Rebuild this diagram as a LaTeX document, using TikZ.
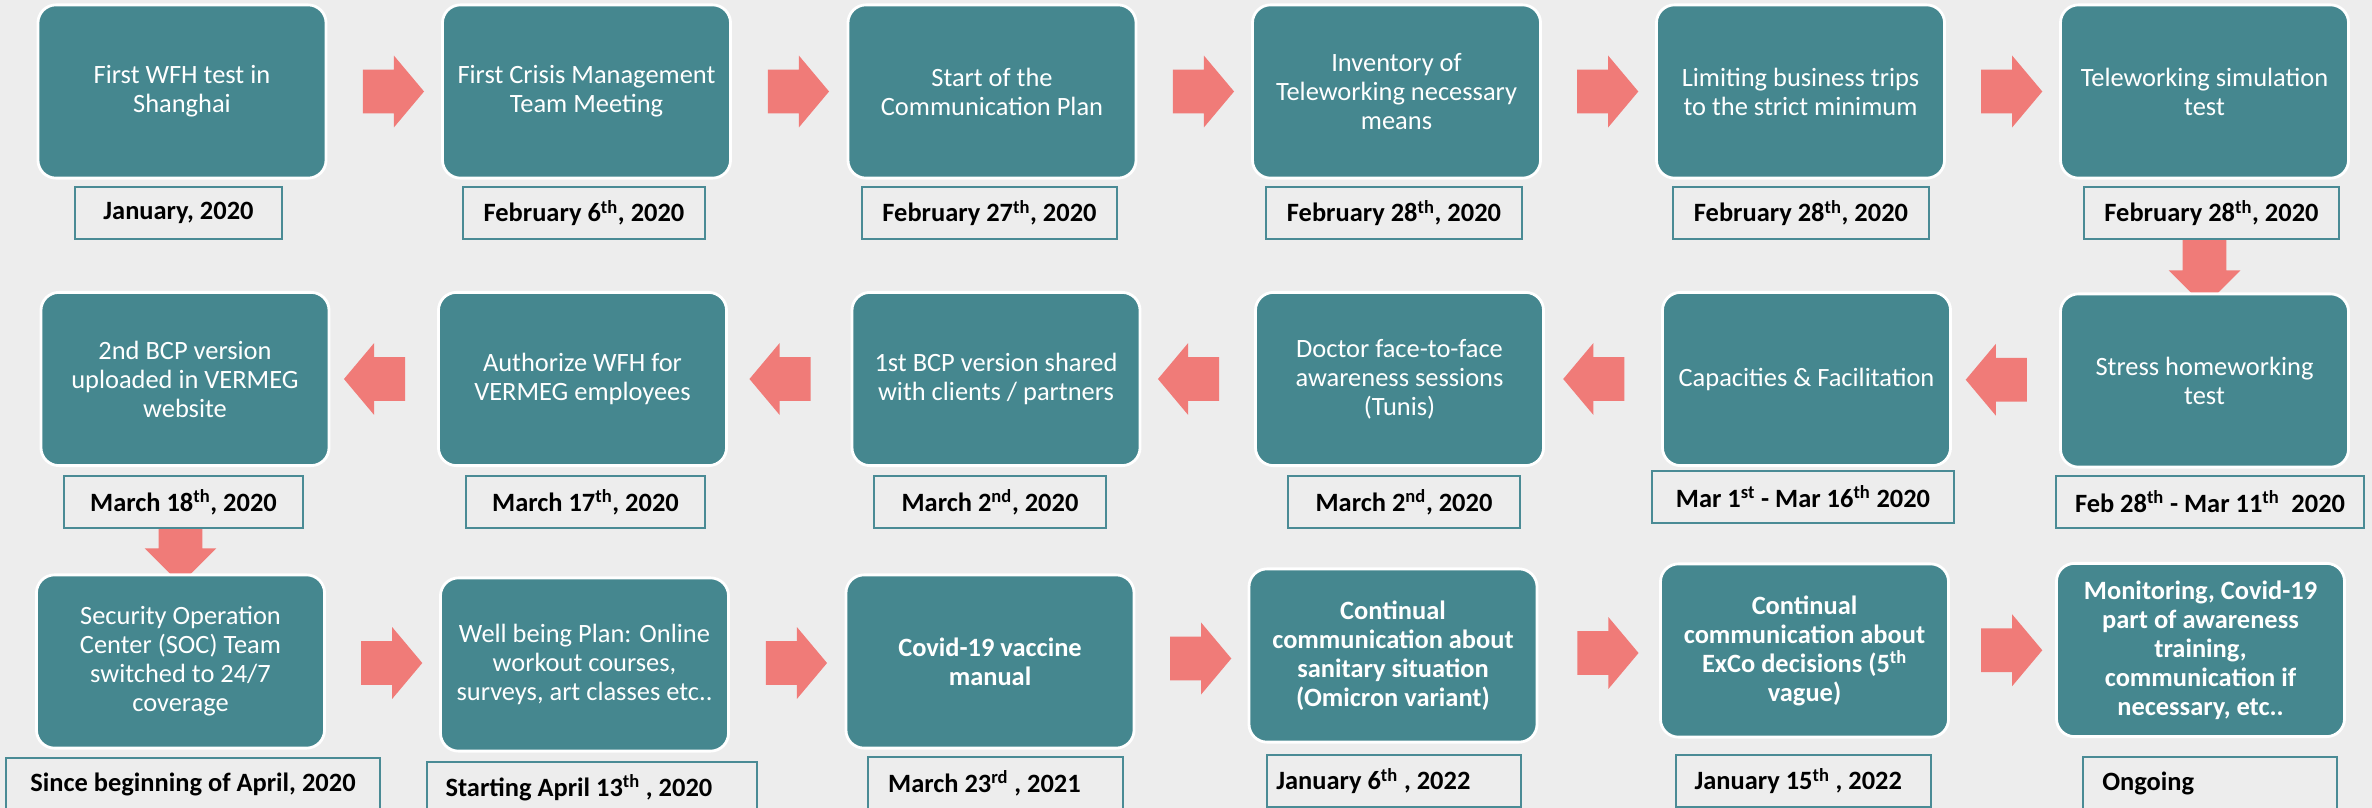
\documentclass[tikz,border=0pt]{standalone}
\usepackage{fontspec}
\setmainfont{Carlito}
\usetikzlibrary{shapes.arrows,backgrounds,calc}
\definecolor{vgbg}{HTML}{EDEDED}
\definecolor{vgteal}{HTML}{45878F}
\definecolor{vgline}{HTML}{4A8B95}
\definecolor{vgsalmon}{HTML}{F07B78}
\tikzset{
  event/.style={
    draw=white,
    line width=2pt,
    rounded corners=0.45cm,
    fill=vgteal,
    text=white,
    align=center,
    minimum width=7.2cm,
    minimum height=4.33cm,
    inner sep=2pt,
    font=\fontsize{18.8pt}{20.6pt}\selectfont
  },
  eventbold/.style={event, font=\fontsize{18.8pt}{20.6pt}\selectfont\bfseries},
  datebox/.style={
    draw=vgline,
    line width=1.3pt,
    fill=vgbg,
    minimum height=1.3cm,
    inner sep=0pt,
    font=\fontsize{18.8pt}{20.6pt}\selectfont\bfseries
  },
  datetext/.style={inner sep=0pt, font=\fontsize{18.8pt}{20.6pt}\selectfont\bfseries},
  flowright/.style={
    single arrow,
    fill=vgsalmon,
    minimum height=1.53cm,
    minimum width=1.78cm,
    single arrow head extend=0.35cm,
    single arrow tip angle=100,
    inner xsep=0pt,
    inner ysep=0.54cm
  },
  flowleft/.style={flowright, shape border rotate=180},
  flowdown/.style={flowright, single arrow tip angle=90, shape border rotate=270,
    inner xsep=0.54cm, inner ysep=0pt}
}

\begin{document}
\begin{tikzpicture}[x=0.025cm,y=-0.025cm]
\useasboundingbox (0,0) rectangle (2372,808);

% first row, left to right
\node[event] (wfh) at (182,91.5) {First WFH test in\\Shanghai};
\node[event] (crisis) at (586.5,91.5) {First Crisis Management\\Team Meeting};
\node[event] (complan) at (992,91.5) {Start of the\\Communication Plan};
\node[event] (inventory) at (1396.5,91.5) {Inventory of\\Teleworking necessary\\means};
\node[event] (trips) at (1800.5,91.5) {Limiting business trips\\to the strict minimum};
\node[event] (simtest) at (2204.5,91.5) {Teleworking simulation\\test};

\node[datebox, minimum width=5.175cm] (dwfh) at (178.5,213) {January, 2020};
\node[datebox, minimum width=6.05cm] (dcrisis) at (584,213) {February 6\textsuperscript{th}, 2020};
\node[datebox, minimum width=6.375cm] (dcomplan) at (989.5,213) {February 27\textsuperscript{th}, 2020};
\node[datebox, minimum width=6.4cm] (dinventory) at (1394,213) {February 28\textsuperscript{th}, 2020};
\node[datebox, minimum width=6.4cm] (dtrips) at (1801,213) {February 28\textsuperscript{th}, 2020};
\node[datebox, minimum width=6.375cm] (dsimtest) at (2211.5,213) {February 28\textsuperscript{th}, 2020};

% second row, read right to left
\node[event] (bcpsecond) at (185,379) {2nd BCP version\\uploaded in VERMEG\\website};
\node[event] (authwfh) at (582.5,379) {Authorize WFH for\\VERMEG employees};
\node[event] (bcpfirst) at (996,379) {1st BCP version shared\\with clients / partners};
\node[event] (doctor) at (1399.5,379) {Doctor face-to-face\\awareness sessions\\(Tunis)};
\node[event] (capacities) at (1806.5,379) {Capacities \& Facilitation};
\node[event] (stress) at (2204.5,380.5) {Stress homeworking\\test};

\node[datebox, minimum width=5.975cm] (dbcpsecond) at (183.5,502) {March 18\textsuperscript{th}, 2020};
\node[datebox, minimum width=5.975cm] (dauthwfh) at (585.5,502) {March 17\textsuperscript{th}, 2020};
\node[datebox, minimum width=5.8cm] (dbcpfirst) at (990,502) {March 2\textsuperscript{nd}, 2020};
\node[datebox, minimum width=5.8cm] (ddoctor) at (1404,502) {March 2\textsuperscript{nd}, 2020};
\node[datebox, minimum width=7.55cm] (dcapacities) at (1803,497) {Mar 1\textsuperscript{st} - Mar 16\textsuperscript{th} 2020};
\node[datebox, minimum width=7.7cm] (dstress) at (2210,502) {Feb 28\textsuperscript{th} - Mar 11\textsuperscript{th}\ \ 2020};

% third row
\node[event] (soc) at (180.5,661.5) {Security Operation\\Center (SOC) Team\\switched to 24/7\\coverage};
\node[event] (wellbeing) at (584.5,664.5) {Well being Plan: Online\\workout courses,\\surveys, art classes etc..};
\node[eventbold] (vaccine) at (990,661.5) {Covid-19 vaccine\\manual};
\node[eventbold] (omicron) at (1393,655.5) {Continual\\communication about\\sanitary situation\\(Omicron variant)};
\node[eventbold] (exco) at (1804.5,650.5) {Continual\\communication about\\ExCo decisions (5\textsuperscript{th}\\vague)};
\node[eventbold] (monitoring) at (2200.5,650) {Monitoring, Covid-19\\part of awareness\\training,\\communication if\\necessary, etc..};

\node[datebox, minimum width=9.35cm] (dsoc) at (193,784) {Since beginning of April, 2020};
\node[datebox, minimum width=8.25cm] (dwellbeing) at (592,788) {};
\node[datebox, minimum width=6.375cm] (dvaccine) at (995.5,783) {};
\node[datebox, minimum width=6.35cm] (domicron) at (1394,781) {};
\node[datebox, minimum width=6.375cm] (dexco) at (1803.5,781) {};
\node[datebox, minimum width=6.35cm] (dmonitoring) at (2210,783) {};
\node[datetext, anchor=west] (twellbeing) at ([xshift=0.48cm]dwellbeing.west) {Starting April 13\textsuperscript{th} , 2020};
\node[datetext, anchor=west] (tvaccine) at ([xshift=0.52cm]dvaccine.west) {March 23\textsuperscript{rd} , 2021};
\node[datetext, anchor=west] (tomicron) at ([xshift=0.25cm]domicron.west) {January 6\textsuperscript{th} , 2022};
\node[datetext, anchor=west] (texco) at ([xshift=0.48cm]dexco.west) {January 15\textsuperscript{th} , 2022};
\node[datetext, anchor=west] (tmonitoring) at ([xshift=0.5cm]dmonitoring.west) {Ongoing};

\begin{pgfonlayer}{background}
  \fill[vgbg] (0,0) rectangle (2372,808);
  % row 1 arrows
  \node[flowright] (r1) at ($(wfh.east)!0.5!(crisis.west)$) {};
  \node[flowright] (r2) at ($(crisis.east)!0.5!(complan.west)$) {};
  \node[flowright] (r3) at ($(complan.east)!0.5!(inventory.west)$) {};
  \node[flowright] (r4) at ($(inventory.east)!0.5!(trips.west)$) {};
  \node[flowright] (r5) at ($(trips.east)!0.5!(simtest.west)$) {};
  \node[flowdown, anchor=tail, minimum height=1.65cm] (turn1) at (dsimtest.south -| stress.north) {};
  % row 2 arrows
  \node[flowleft] (l1) at ($(capacities.east)!0.5!(stress.west)$) {};
  \node[flowleft] (l2) at ($(doctor.east)!0.5!(capacities.west)$) {};
  \node[flowleft] (l3) at ($(bcpfirst.east)!0.5!(doctor.west)$) {};
  \node[flowleft] (l4) at ($(authwfh.east)!0.5!(bcpfirst.west)$) {};
  \node[flowleft] (l5) at ($(bcpsecond.east)!0.5!(authwfh.west)$) {};
  \node[flowdown, anchor=tail, minimum height=1.375cm] (turn2) at (dbcpsecond.south -| soc.north) {};
  % row 3 arrows
  \node[flowright] (s1) at ($(soc.east)!0.5!(wellbeing.west)$) {};
  \node[flowright] (s2) at ($(wellbeing.east)!0.5!(vaccine.west)$) {};
  \node[flowright] (s3) at ($(vaccine.east)!0.5!(omicron.west)$) {};
  \node[flowright] (s4) at ($(omicron.east)!0.5!(exco.west)$) {};
  \node[flowright] (s5) at ($(exco.east)!0.5!(monitoring.west)$) {};
\end{pgfonlayer}

\end{tikzpicture}
\end{document}
